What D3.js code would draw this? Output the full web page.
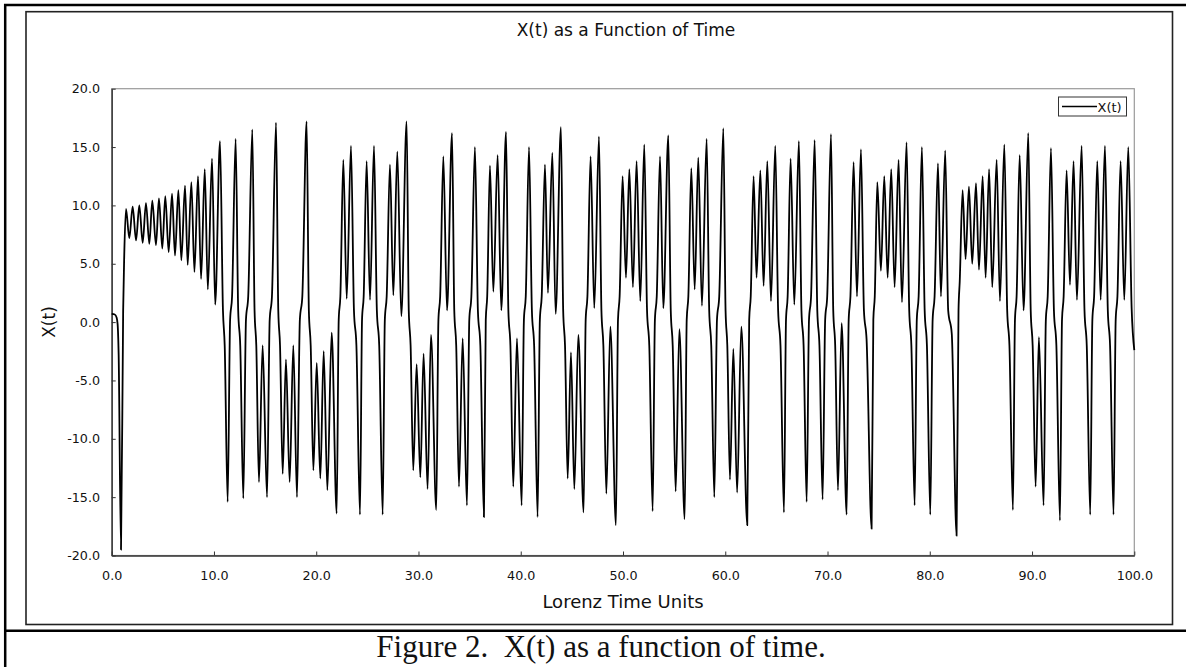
<!DOCTYPE html>
<html>
<head>
<meta charset="utf-8">
<script src="https://cdn.jsdelivr.net/npm/d3@7"></script>
<style>
  html, body { margin: 0; padding: 0; background: #fff; }
  svg { display: block; }
  text { font-family: "DejaVu Sans", Verdana, sans-serif; fill: #111; }
</style>
</head>
<body>
<svg id="chart" width="1186" height="667"></svg>
<script>
// ---- data ----
const chartTitle = "X(t) as a Function of Time";
const xAxisTitle = "Lorenz Time Units";
const yAxisTitle = "X(t)";
const seriesName = "X(t)";
const captionText = "Figure 2.  X(t) as a function of time.";

const xTicks = [0, 10, 20, 30, 40, 50, 60, 70, 80, 90, 100];
const xTickLabels = ["0.0", "10.0", "20.0", "30.0", "40.0", "50.0", "60.0", "70.0", "80.0", "90.0", "100.0"];
const yTicks = [-20, -15, -10, -5, 0, 5, 10, 15, 20];
const yTickLabels = ["-20.0", "-15.0", "-10.0", "-5.0", "0.0", "5.0", "10.0", "15.0", "20.0"];

// [time, X(t)] : turning points and shoulders
const xSeries = [
[0.00,0.7],[0.30,0.65],[0.48,0.4],[0.58,-0.2],[0.68,-2.8],[0.91,-19.5],[1.12,1.0],[1.22,5.5],[1.40,9.7],
[1.72,7.2],[2.05,9.9],[2.38,7.0],[2.70,10.0],[3.03,6.8],[3.35,10.2],[3.68,6.7],[3.97,10.4],[4.33,6.6],[4.62,10.6],[4.95,6.3],[5.24,10.8],[5.57,6.0],[5.90,11.0],[6.19,5.7],[6.52,11.3],[6.81,5.3],[7.17,11.7],[7.43,4.9],[7.79,12.0],[8.09,4.3],[8.44,12.5],[8.74,3.7],[9.10,13.1],[9.40,2.8],[9.81,14.0],[10.12,1.5],[10.59,15.5],
[10.88,1.0],[11.05,-2.0],[11.34,-15.4],[11.58,0.2],[11.77,2.2],[12.12,15.7],
[12.37,1.0],[12.57,-2.0],[12.87,-15.1],[13.13,0.2],[13.35,2.2],[13.75,16.5],
[13.97,1.0],[14.14,-2.0],[14.40,-13.7],[14.76,-2.0],[15.19,-15.0],[15.45,0.2],[15.67,2.2],[16.07,17.1],
[16.29,1.0],[16.46,-2.0],[16.72,-13.0],[17.04,-3.2],[17.40,-13.7],[17.76,-2.0],[18.12,-15.0],[18.40,0.2],[18.64,2.2],[19.06,17.2],
[19.28,1.0],[19.46,-2.0],[19.72,-12.7],[20.05,-3.5],[20.40,-13.4],[20.73,-2.5],[21.09,-14.4],[21.51,-0.9],[22.00,-16.4],[22.20,0.2],[22.36,2.2],[22.65,13.9],
[22.98,2.0],[23.40,15.1],[23.69,1.0],[23.93,-2.0],[24.28,-16.5],[24.48,0.2],[24.64,2.2],[24.93,13.8],
[25.26,1.9],[25.65,15.1],[25.93,1.0],[26.16,-2.0],[26.50,-16.5],[26.71,0.2],[26.89,2.2],[27.21,13.5],
[27.54,2.3],[27.93,14.6],[28.32,0.5],[28.84,17.2],[29.05,1.0],[29.23,-2.0],[29.49,-12.7],
[29.82,-3.6],[30.18,-13.3],[30.50,-2.7],[30.89,-14.3],[31.22,-1.1],[31.74,-16.1],[31.95,0.2],[32.12,2.2],[32.43,14.2],
[32.79,1.0],[33.28,16.2],[33.50,1.0],[33.69,-2.0],[33.96,-14.1],[34.32,-1.4],[34.74,-15.7],[34.97,0.2],[35.17,2.2],[35.52,15.0],
[35.81,1.0],[36.05,-2.0],[36.40,-16.7],[36.58,0.2],[36.72,2.2],[36.99,13.4],
[37.32,2.6],[37.74,14.3],[38.10,1.0],[38.56,16.3],[38.79,1.0],[38.99,-2.0],[39.27,-14.1],[39.63,-1.4],[40.09,-15.7],[40.31,0.2],[40.49,2.2],[40.81,15.0],
[41.09,1.0],[41.31,-2.0],[41.65,-16.7],[41.87,0.2],[42.05,2.2],[42.37,13.5],
[42.66,2.5],[43.09,14.5],[43.41,0.7],[43.93,16.7],[44.15,1.0],[44.33,-2.0],[44.59,-13.4],
[44.91,-2.6],[45.24,-14.3],[45.63,-1.1],[46.15,-16.3],[46.35,0.2],[46.52,2.2],[46.83,14.2],
[47.19,1.2],[47.65,15.9],[47.89,1.0],[48.08,-2.0],[48.37,-14.7],[48.76,-0.4],[49.31,-17.4],[49.51,0.2],[49.67,2.2],[49.96,12.5],
[50.29,3.8],[50.62,13.1],[50.97,3.0],[51.33,13.8],[51.69,1.8],[52.08,15.2],[52.35,1.0],[52.57,-2.0],[52.90,-16.2],[53.12,0.2],[53.30,2.2],[53.62,14.2],
[53.94,1.2],[54.43,16.0],[54.67,1.0],[54.86,-2.0],[55.15,-14.5],[55.51,-0.6],[56.03,-16.9],[56.23,0.2],[56.39,2.2],[56.68,13.2],
[57.01,2.8],[57.36,14.1],[57.72,1.4],[58.18,15.7],[58.43,1.0],[58.63,-2.0],[58.93,-15.0],[59.19,0.2],[59.41,2.2],[59.81,16.6],
[60.03,1.0],[60.20,-2.0],[60.46,-13.5],[60.79,-2.3],[61.16,-14.6],[61.57,-0.4],[62.15,-17.4],[62.34,0.2],[62.49,2.2],[62.77,12.5],
[63.06,3.8],[63.43,13.0],[63.75,3.1],[64.11,13.8],[64.47,1.8],[64.89,15.1],[65.17,1.0],[65.40,-2.0],[65.74,-16.3],[65.94,0.2],[66.10,2.2],[66.39,14.0],
[66.75,1.5],[67.20,15.5],[67.45,1.0],[67.66,-2.0],[67.96,-15.4],[68.19,0.2],[68.39,2.2],[68.74,15.6],
[69.00,1.0],[69.21,-2.0],[69.52,-15.2],[69.77,0.2],[69.97,2.2],[70.34,16.1],
[70.56,1.0],[70.75,-2.0],[71.02,-14.4],[71.38,-0.1],[71.87,-16.5],[72.07,0.2],[72.24,2.2],[72.55,13.7],
[72.88,2.2],[73.27,14.8],[73.56,1.0],[73.82,-1.5],[74.31,-17.7],[74.48,0.2],[74.62,2.2],[74.87,12.0],
[75.22,4.4],[75.55,12.5],[75.88,3.8],[76.23,13.1],[76.56,3.0],[76.95,13.9],[77.28,1.7],[77.73,15.4],[77.99,1.0],[78.20,-2.0],[78.52,-15.7],[78.73,0.2],[78.91,2.2],[79.23,15.0],
[79.50,1.0],[79.72,-2.0],[80.05,-16.5],[80.28,0.2],[80.47,2.2],[80.80,13.6],
[81.09,2.2],[81.51,14.7],[81.80,1.0],[82.15,-1.0],[82.62,-18.3],[82.81,1.0],[82.93,3.5],[83.21,11.3],
[83.50,5.4],[83.83,11.6],[84.15,5.0],[84.52,11.9],[84.81,4.5],[85.17,12.5],[85.46,3.8],[85.80,13.1],[86.11,3.0],[86.54,13.9],[86.86,1.8],[87.29,15.2],
[87.57,1.0],[87.79,-2.0],[88.13,-16.1],[88.33,0.2],[88.49,2.2],[88.79,14.3],
[89.17,1.0],[89.63,16.2],[89.87,1.0],[90.06,-2.0],[90.35,-14.1],[90.67,-1.3],[91.13,-15.7],[91.35,0.2],[91.53,2.2],[91.85,14.9],
[92.14,1.0],[92.38,-2.0],[92.73,-17.0],[92.93,0.2],[93.09,2.2],[93.38,13.0],
[93.71,3.2],[94.06,13.8],[94.39,1.9],[94.85,15.1],[95.13,1.0],[95.35,-2.0],[95.69,-16.5],[95.90,0.2],[96.07,2.2],[96.38,13.8],
[96.71,1.9],[97.13,15.1],[97.41,1.0],[97.63,-2.0],[97.97,-16.5],[98.18,0.2],[98.35,2.2],[98.66,13.8],
[99.02,1.9],[99.41,15.0],[99.74,1.2],[100.0,-2.4]
];

// ---- layout ----
const W = 1186, H = 667;
const plot = { left: 111.7, right: 1134.3, top: 88.7, bottom: 555.5 };

const svg = d3.select("#chart");
svg.append("rect").attr("width", W).attr("height", H).attr("fill", "#fff");

const x = d3.scaleLinear().domain([0, 100]).range([plot.left, plot.right]);
const y = d3.scaleLinear().domain([-20, 20]).range([plot.bottom, plot.top]);

// outer table frame
svg.append("line").attr("x1", 4).attr("x2", W).attr("y1", 5).attr("y2", 5)
  .attr("stroke", "#000").attr("stroke-width", 2.5);
svg.append("line").attr("x1", 5.2).attr("x2", 5.2).attr("y1", 4).attr("y2", H)
  .attr("stroke", "#000").attr("stroke-width", 2.5);
svg.append("line").attr("x1", 4).attr("x2", W).attr("y1", 630.7).attr("y2", 630.7)
  .attr("stroke", "#000").attr("stroke-width", 2.6);

// chart frame
svg.append("rect").attr("x", 26).attr("y", 11.7).attr("width", 1146.5).attr("height", 612.8)
  .attr("fill", "none").attr("stroke", "#222").attr("stroke-width", 1.6);

// plot area border (light top/right)
svg.append("rect").attr("x", plot.left).attr("y", plot.top)
  .attr("width", plot.right - plot.left).attr("height", plot.bottom - plot.top)
  .attr("fill", "none").attr("stroke", "#9a9a9a").attr("stroke-width", 1.2);

// axes
const xAxis = d3.axisBottom(x).tickValues(xTicks)
  .tickFormat((d, i) => xTickLabels[i]).tickSizeInner(-4).tickSizeOuter(0).tickPadding(15);
const yAxis = d3.axisLeft(y).tickValues(yTicks)
  .tickFormat((d, i) => yTickLabels[i]).tickSizeInner(-4).tickSizeOuter(0).tickPadding(11.7);

const gx = svg.append("g").attr("transform", `translate(0,${plot.bottom})`).call(xAxis);
const gy = svg.append("g").attr("transform", `translate(${plot.left},0)`).call(yAxis);
[gx, gy].forEach(g => {
  g.select(".domain").attr("stroke", "#333").attr("stroke-width", 1.4);
  g.selectAll(".tick line").attr("stroke", "#333").attr("stroke-width", 1);
  g.selectAll(".tick text").style("font-family", "'DejaVu Sans', Verdana, sans-serif")
    .style("font-size", "12.7px").attr("fill", "#111");
});

// series line
const line = d3.line().x(d => x(d[0])).y(d => y(d[1])).curve(d3.curveMonotoneX);
svg.append("path").datum(xSeries).attr("d", line)
  .attr("fill", "none").attr("stroke", "#000").attr("stroke-width", 1.8)
  .attr("stroke-linejoin", "round");

// titles
svg.append("text").attr("x", 626).attr("y", 36).attr("text-anchor", "middle")
  .style("font-size", "17px").text(chartTitle);
svg.append("text").attr("x", 623).attr("y", 608).attr("text-anchor", "middle")
  .style("font-size", "18px").text(xAxisTitle);
svg.append("text").attr("transform", "translate(55,322) rotate(-90)").attr("text-anchor", "middle")
  .style("font-size", "17px").text(yAxisTitle);

// legend
const lg = svg.append("g");
lg.append("rect").attr("x", 1058.5).attr("y", 97).attr("width", 68).attr("height", 19)
  .attr("fill", "#fff").attr("stroke", "#333").attr("stroke-width", 1);
lg.append("line").attr("x1", 1062).attr("x2", 1097).attr("y1", 106.5).attr("y2", 106.5)
  .attr("stroke", "#000").attr("stroke-width", 1.3);
lg.append("text").attr("x", 1097.5).attr("y", 111.5).style("font-size", "13px").text(seriesName);

// caption
svg.append("text").attr("x", 601).attr("y", 657).attr("text-anchor", "middle")
  .style("font-family", "'Liberation Serif', 'Times New Roman', serif")
  .style("font-size", "31px").style("white-space", "pre").attr("fill", "#000")
  .text(captionText);
</script>
</body>
</html>
